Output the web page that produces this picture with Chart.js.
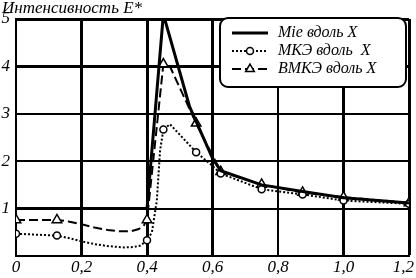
<!DOCTYPE html>
<html>
<head>
<meta charset="utf-8">
<script src="https://cdn.jsdelivr.net/npm/chart.js@4/dist/chart.umd.min.js"></script>
<style>
    html, body { margin: 0; padding: 0; background: #fff; }
</style>
</head>
<body>
<canvas id="intensity-chart" width="416" height="278"></canvas>
<script>
// Chart data
const seriesNames = ['Mie вдоль X', 'МКЭ вдоль  X', 'ВМКЭ вдоль X'];
const yTitle = 'Интенсивность E*';

const mieX = [0, 0.4, 0.45, 0.53, 0.6, 0.625, 0.75, 0.875, 1.0, 1.2];
const mieY = [1, 1, 5.1, 3.15, 2.06, 1.8, 1.5, 1.36, 1.23, 1.12];

const mkeX = [0, 0.125, 0.16, 0.2, 0.24, 0.28, 0.33, 0.36, 0.38, 0.4, 0.415, 0.43, 0.44, 0.45, 0.47, 0.5, 0.55, 0.6, 0.625, 0.75, 0.875, 1.0, 1.2];
const mkeY = [0.47, 0.43, 0.38, 0.31, 0.25, 0.21, 0.18, 0.19, 0.22, 0.33, 0.5, 1.17, 2.23, 2.67, 2.78, 2.56, 2.19, 1.9, 1.74, 1.41, 1.3, 1.17, 1.1];
const mkeMarkers = [0, 0.125, 0.4, 0.45, 0.55, 0.625, 0.75, 0.875, 1.0, 1.2];

const vmkeX = [0, 0.125, 0.16, 0.2, 0.24, 0.28, 0.32, 0.35, 0.375, 0.39, 0.4, 0.45, 0.47, 0.55, 0.625, 0.75, 0.875, 1.0, 1.2];
const vmkeY = [0.76, 0.76, 0.73, 0.67, 0.6, 0.55, 0.52, 0.52, 0.57, 0.64, 0.76, 4.05, 4.0, 2.8, 1.78, 1.51, 1.34, 1.24, 1.12];
const vmkeMarkers = [0, 0.125, 0.4, 0.45, 0.55, 0.625, 0.75, 0.875, 1.0, 1.2];

const xTicks = [0, 0.2, 0.4, 0.6, 0.8, 1.0, 1.2];
const xTickLabels = ['0', '0,2', '0,4', '0,6', '0,8', '1,0', '1,2'];
const yTickLabels = ['', '1', '2', '3', '4', '5'];

const FONT = 'italic 17px "Liberation Serif"';

function toPoints(xs, ys) {
    return xs.map((x, i) => ({ x: x, y: ys[i] }));
}

function hasMarker(list, x) {
    return list.some(m => Math.abs(m - x) < 1e-6);
}

// thicker grid lines, as in the scan
function gridWidth(ctx, thick) {
    const v = ctx.tick ? ctx.tick.value : null;
    return thick.some(t => Math.abs(t - v) < 1e-6) ? 3 : 2;
}

const extras = {
    id: 'extras',
    afterDraw(chart) {
        const ctx = chart.ctx;
        const area = chart.chartArea;
        const xScale = chart.scales.x;
        ctx.save();
        ctx.fillStyle = '#000';
        ctx.font = FONT;

        // axis title above the plot
        ctx.textBaseline = 'alphabetic';
        ctx.textAlign = 'left';
        ctx.fillText(yTitle, 2, 13);

        // x tick labels, kept inside the canvas
        ctx.textBaseline = 'middle';
        xTicks.forEach((v, i) => {
            const px = xScale.getPixelForValue(v);
            const w = ctx.measureText(xTickLabels[i]).width;
            const left = Math.min(Math.max(px - w / 2, 2), chart.width - 2 - w);
            ctx.fillText(xTickLabels[i], left, 268);
        });

        // legend box in the upper right corner
        const bx = area.right - 189, by = area.top - 1, bw = 186, bh = 69;
        ctx.beginPath();
        ctx.roundRect(bx, by, bw, bh, 8);
        ctx.fillStyle = '#fff';
        ctx.fill();
        ctx.lineWidth = 2;
        ctx.strokeStyle = '#000';
        ctx.stroke();

        ctx.font = 'italic 16px "Liberation Serif"';
        chart.data.datasets.forEach((ds, i) => {
            const y = by + 15 + i * 18;
            ctx.save();
            ctx.strokeStyle = '#000';
            ctx.lineWidth = ds.borderWidth;
            ctx.setLineDash(ds.borderDash || []);
            ctx.beginPath();
            ctx.moveTo(bx + 12, y);
            ctx.lineTo(bx + 48, y);
            ctx.stroke();
            ctx.setLineDash([]);
            if (ds.legendMarker) {
                ctx.fillStyle = '#fff';
                ctx.lineWidth = 1.5;
                Chart.helpers.drawPoint(ctx, {
                    pointStyle: ds.pointStyle,
                    radius: ds.legendMarker,
                    borderWidth: 1.5,
                    rotation: 0
                }, bx + 30, y);
            }
            ctx.restore();
            ctx.fillStyle = '#000';
            ctx.textAlign = 'left';
            ctx.fillText(seriesNames[i], bx + 58, y);
        });
        ctx.restore();
    }
};

const chart = new Chart(document.getElementById('intensity-chart').getContext('2d'), {
    type: 'line',
    data: {
        datasets: [{
            label: seriesNames[0],
            data: toPoints(mieX, mieY),
            borderColor: '#000',
            borderWidth: 3,
            pointRadius: 0,
            tension: 0
        }, {
            label: seriesNames[1],
            data: toPoints(mkeX, mkeY),
            borderColor: '#000',
            borderWidth: 2,
            borderDash: [2, 2],
            tension: 0,
            pointStyle: 'circle',
            pointRadius: ctx => hasMarker(mkeMarkers, ctx.raw.x) ? 3.5 : 0,
            pointBackgroundColor: '#fff',
            pointBorderColor: '#000',
            pointBorderWidth: 1.5,
            legendMarker: 3.5
        }, {
            label: seriesNames[2],
            data: toPoints(vmkeX, vmkeY),
            borderColor: '#000',
            borderWidth: 2,
            borderDash: [9, 4],
            tension: 0,
            pointStyle: 'triangle',
            pointRadius: ctx => hasMarker(vmkeMarkers, ctx.raw.x) ? 5.5 : 0,
            pointBackgroundColor: '#fff',
            pointBorderColor: '#000',
            pointBorderWidth: 1.5,
            legendMarker: 5
        }]
    },
    options: {
        responsive: false,
        animation: false,
        layout: { padding: { top: 19, right: 7, left: 0, bottom: 0 } },
        plugins: { legend: { display: false }, tooltip: { enabled: false } },
        scales: {
            x: {
                type: 'linear',
                min: 0,
                max: 1.2,
                ticks: { stepSize: 0.2, display: false },
                grid: {
                    color: '#000',
                    drawTicks: false,
                    lineWidth: ctx => gridWidth(ctx, [0.2, 0.4, 0.6, 1.0, 1.2])
                },
                border: { display: true, color: '#000', width: 2 },
                afterFit: scale => { scale.height = 22; }
            },
            y: {
                min: 0,
                max: 5,
                ticks: {
                    stepSize: 1,
                    color: '#000',
                    padding: 6,
                    font: { family: 'Liberation Serif', style: 'italic', size: 17 },
                    callback: value => yTickLabels[value] || ''
                },
                grid: {
                    color: '#000',
                    drawTicks: false,
                    lineWidth: ctx => gridWidth(ctx, [4, 5])
                },
                border: { display: true, color: '#000', width: 2 },
                afterFit: scale => { scale.width = 16; }
            }
        }
    },
    plugins: [extras]
});
</script>
</body>
</html>
